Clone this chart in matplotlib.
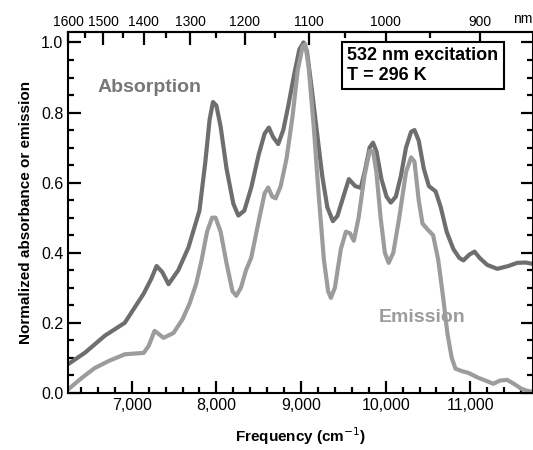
import matplotlib
matplotlib.use('Agg')
import matplotlib.pyplot as plt
from matplotlib.ticker import MultipleLocator, FixedLocator, FuncFormatter

plt.rcParams['font.family'] = ['Liberation Sans', 'DejaVu Sans']

# frequency (cm-1) and normalized values
abs_x = [6250, 6450, 6682, 6918, 7141, 7230, 7294, 7360, 7435, 7550, 7670, 7800,
         7870, 7920, 7960, 8000, 8050, 8120, 8200, 8259, 8330, 8412, 8500, 8570,
         8620, 8670, 8730, 8790, 8850, 8920, 8980, 9030, 9070, 9120, 9180, 9250,
         9310, 9376, 9430, 9500, 9565, 9640, 9706, 9760, 9810, 9850, 9890, 9950,
         10010, 10060, 10120, 10180, 10240, 10300, 10340, 10390, 10450, 10510, 10590,
         10650, 10720, 10800, 10870, 10918, 10990, 11050, 11110, 11200, 11318, 11450,
         11553, 11650, 11740]
abs_y = [0.082, 0.115, 0.163, 0.200, 0.283, 0.325, 0.362, 0.345, 0.310, 0.350, 0.415, 0.520,
         0.660, 0.780, 0.830, 0.820, 0.760, 0.640, 0.540, 0.506, 0.520, 0.586, 0.680, 0.740,
         0.757, 0.730, 0.710, 0.750, 0.820, 0.910, 0.980, 1.000, 0.975, 0.880, 0.760, 0.620,
         0.530, 0.490, 0.505, 0.560, 0.610, 0.590, 0.585, 0.640, 0.700, 0.714, 0.690, 0.610,
         0.560, 0.543, 0.560, 0.620, 0.700, 0.745, 0.750, 0.720, 0.640, 0.590, 0.575,
         0.530, 0.460, 0.410, 0.385, 0.378, 0.395, 0.403, 0.385, 0.365, 0.354, 0.362,
         0.371, 0.372, 0.368]

em_x = [6250, 6412, 6565, 6729, 6918, 7141, 7200, 7270, 7376, 7494, 7600, 7682,
        7760, 7824, 7890, 7950, 7990, 8050, 8120, 8190, 8235, 8290, 8350, 8412,
        8500, 8570, 8612, 8660, 8700, 8760, 8830, 8900, 8960, 9020, 9050, 9090,
        9150, 9210, 9270, 9320, 9353, 9400, 9470, 9530, 9580, 9624, 9680, 9750,
        9810, 9850, 9890, 9940, 9990, 10035, 10090, 10160, 10240, 10300, 10340,
        10390, 10435, 10500, 10560, 10620, 10680, 10729, 10780, 10824, 10900, 10976,
        11094, 11180, 11270, 11350, 11435, 11520, 11600, 11670, 11740]
em_y = [0.010, 0.043, 0.071, 0.091, 0.110, 0.114, 0.134, 0.177, 0.157, 0.171, 0.210, 0.254,
        0.310, 0.377, 0.460, 0.500, 0.500, 0.460, 0.370, 0.290, 0.277, 0.300, 0.350, 0.386,
        0.490, 0.570, 0.586, 0.560, 0.555, 0.590, 0.670, 0.790, 0.920, 0.990, 0.995, 0.930,
        0.760, 0.560, 0.380, 0.290, 0.271, 0.300, 0.410, 0.460, 0.455, 0.434, 0.500, 0.620,
        0.690, 0.690, 0.630, 0.500, 0.400, 0.371, 0.400, 0.500, 0.630, 0.672, 0.660,
        0.550, 0.483, 0.465, 0.450, 0.380, 0.270, 0.169, 0.100, 0.069, 0.062, 0.057,
        0.043, 0.035, 0.026, 0.035, 0.037, 0.025, 0.012, 0.006, 0.003]

nm_major = [1600, 1500, 1400, 1300, 1200, 1100, 1000, 900]
nm_minor = [1550, 1450, 1350, 1250, 1150, 1050, 950, 850]

fig, ax = plt.subplots(figsize=(5.33, 4.5), dpi=100)
fig.subplots_adjust(left=0.128, right=1.0, bottom=0.127, top=0.929)

ax.plot(abs_x, abs_y, color='#6e6e6e', lw=3, solid_joinstyle='round', solid_capstyle='round')
ax.plot(em_x, em_y, color='#9c9c9c', lw=3, solid_joinstyle='round', solid_capstyle='round')

ax.set_xlim(6250, 11740)
ax.set_ylim(0.0, 1.03)

ax.xaxis.set_major_locator(MultipleLocator(1000))
ax.xaxis.set_minor_locator(MultipleLocator(200))
ax.xaxis.set_major_formatter(FuncFormatter(lambda v, p: f"{int(v):,}"))
ax.yaxis.set_major_locator(MultipleLocator(0.2))
ax.yaxis.set_minor_locator(MultipleLocator(0.05))
ax.yaxis.set_major_formatter(FuncFormatter(lambda v, p: f"{v:.1f}"))

ax.tick_params(which='both', direction='in', width=1.6, color='black', right=True, top=False)
ax.tick_params(which='major', length=9, labelsize=11.5)
ax.tick_params(which='minor', length=4.5)
for s in ax.spines.values():
    s.set_linewidth(1.5)

top = ax.secondary_xaxis('top', functions=(lambda x: 1e7 / x, lambda x: 1e7 / x))
top.xaxis.set_major_locator(FixedLocator(nm_major))
top.xaxis.set_minor_locator(FixedLocator(nm_minor))
top.xaxis.set_major_formatter(FuncFormatter(lambda v, p: str(int(v))))
top.tick_params(which='both', direction='in', width=1.6, color='black')
top.tick_params(which='major', length=9, labelsize=10, pad=2)
top.tick_params(which='minor', length=4.5)
top.spines['top'].set_linewidth(1.5)
fig.text(0.962, 0.957, "nm", fontsize=10, ha='left', va='center')

ax.set_xlabel("Frequency (cm$^{-1}$)", fontsize=11, fontweight='bold', labelpad=9)
ax.set_ylabel("Normalized absorbance or emission", fontsize=11, fontweight='bold', labelpad=6)

ax.text(0.175, 0.845, "Absorption", transform=ax.transAxes, color='#777777',
        fontsize=14, fontweight='bold', ha='center', va='center')
ax.text(0.762, 0.21, "Emission", transform=ax.transAxes, color='#9c9c9c',
        fontsize=14, fontweight='bold', ha='center', va='center')
ax.text(0.6, 0.958, "532 nm excitation\nT = 296 K", transform=ax.transAxes,
        fontsize=13, fontweight='bold', va='top', ha='left', linespacing=1.2,
        bbox=dict(boxstyle='square,pad=0.3', fc='white', ec='black', lw=1.5))

fig.savefig('out.png', dpi=100)
